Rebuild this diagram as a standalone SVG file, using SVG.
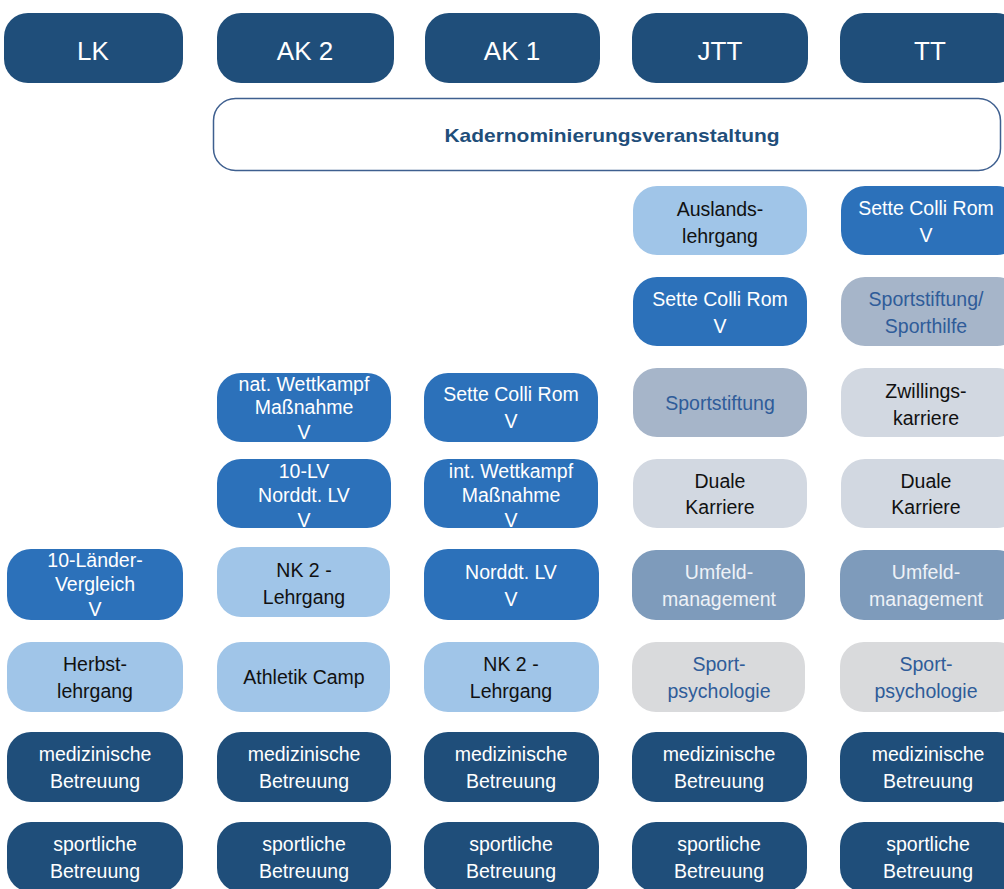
<svg xmlns="http://www.w3.org/2000/svg" width="1004" height="889" viewBox="0 0 1004 889">
<style>
text{font-family:"Liberation Sans",Arial,sans-serif;font-size:19.5px;text-anchor:middle}
.navy{fill:#1f4e7a}
.blue{fill:#2c71ba}
.lb{fill:#a0c5e8}
.gb{fill:#a6b5c9}
.sl{fill:#7e9bbb}
.lg{fill:#d2d8e1}
.sp{fill:#d9dadc}
.tw{fill:#ffffff}
.tk{fill:#111111}
.td{fill:#2f5c99}
.tl{fill:#eef2f7}
.head{font-size:26px}
</style>
<rect width="1004" height="889" fill="#ffffff"/>
<g id="connectors"/>
<!-- header row -->
<g id="LK"><rect class="navy" x="4" y="13" width="179" height="70" rx="24"/><text class="tw head" x="93" y="60">LK</text></g>
<g id="AK2"><rect class="navy" x="217" y="13" width="177" height="70" rx="24"/><text class="tw head" x="305" y="60">AK 2</text></g>
<g id="AK1"><rect class="navy" x="425" y="13" width="175" height="70" rx="24"/><text class="tw head" x="512" y="60">AK 1</text></g>
<g id="JTT"><rect class="navy" x="632" y="13" width="176" height="70" rx="24"/><text class="tw head" x="720" y="60">JTT</text></g>
<g id="TT"><rect class="navy" x="840" y="13" width="180" height="70" rx="24"/><text class="tw head" x="930" y="60">TT</text></g>
<!-- banner -->
<g id="kadernominierung"><rect x="213.5" y="98.5" width="787" height="72" rx="22" fill="#ffffff" stroke="#3e5f8f" stroke-width="1.5"/><text x="612" y="142" style="font-weight:bold;fill:#1f4e7a;font-size:18.5px" textLength="335" lengthAdjust="spacingAndGlyphs">Kadernominierungsveranstaltung</text></g>
<!-- row 1 -->
<g id="jtt-auslands"><rect class="lb" x="633" y="186" width="174" height="69" rx="24"/><text class="tk" x="720" y="216">Auslands-</text><text class="tk" x="720" y="243">lehrgang</text></g>
<g id="tt-sette"><rect class="blue" x="841" y="186" width="180" height="69" rx="24"/><text class="tw" x="926" y="215">Sette Colli Rom</text><text class="tw" x="926" y="242">V</text></g>
<!-- row 2 -->
<g id="jtt-sette"><rect class="blue" x="633" y="277" width="174" height="69" rx="24"/><text class="tw" x="720" y="306">Sette Colli Rom</text><text class="tw" x="720" y="333">V</text></g>
<g id="tt-sporthilfe"><rect class="gb" x="841" y="277" width="180" height="69" rx="24"/><text class="td" x="926" y="306">Sportstiftung/</text><text class="td" x="926" y="333">Sporthilfe</text></g>
<!-- row 3 -->
<g id="ak2-nat"><rect class="blue" x="217" y="373" width="174" height="69" rx="24"/><text class="tw" x="304" y="391">nat. Wettkampf</text><text class="tw" x="304" y="414">Maßnahme</text><text class="tw" x="304" y="439">V</text></g>
<g id="ak1-sette"><rect class="blue" x="424" y="373" width="174" height="69" rx="24"/><text class="tw" x="511" y="401">Sette Colli Rom</text><text class="tw" x="511" y="428">V</text></g>
<g id="jtt-sportstiftung"><rect class="gb" x="633" y="368" width="174" height="69" rx="24"/><text class="td" x="720" y="410">Sportstiftung</text></g>
<g id="tt-zwillings"><rect class="lg" x="841" y="368" width="180" height="69" rx="24"/><text class="tk" x="926" y="398">Zwillings-</text><text class="tk" x="926" y="425">karriere</text></g>
<!-- row 4 -->
<g id="ak2-10lv"><rect class="blue" x="217" y="459" width="174" height="69" rx="24"/><text class="tw" x="304" y="478">10-LV</text><text class="tw" x="304" y="502">Norddt. LV</text><text class="tw" x="304" y="527">V</text></g>
<g id="ak1-int"><rect class="blue" x="424" y="459" width="174" height="69" rx="24"/><text class="tw" x="511" y="478">int. Wettkampf</text><text class="tw" x="511" y="502">Maßnahme</text><text class="tw" x="511" y="527">V</text></g>
<g id="jtt-duale"><rect class="lg" x="633" y="459" width="174" height="69" rx="24"/><text class="tk" x="720" y="488">Duale</text><text class="tk" x="720" y="514">Karriere</text></g>
<g id="tt-duale"><rect class="lg" x="841" y="459" width="180" height="69" rx="24"/><text class="tk" x="926" y="488">Duale</text><text class="tk" x="926" y="514">Karriere</text></g>
<!-- row 5 -->
<g id="lk-10laender"><rect class="blue" x="7" y="549" width="176" height="71" rx="24"/><text class="tw" x="95" y="567">10-Länder-</text><text class="tw" x="95" y="591">Vergleich</text><text class="tw" x="95" y="616">V</text></g>
<g id="ak2-nk2"><rect class="lb" x="217" y="547" width="173" height="70" rx="24"/><text class="tk" x="304" y="577">NK 2 -</text><text class="tk" x="304" y="604">Lehrgang</text></g>
<g id="ak1-norddt"><rect class="blue" x="424" y="549" width="175" height="71" rx="24"/><text class="tw" x="511" y="579">Norddt. LV</text><text class="tw" x="511" y="606">V</text></g>
<g id="jtt-umfeld"><rect class="sl" x="632" y="550" width="173" height="70" rx="24"/><text class="tl" x="719" y="579">Umfeld-</text><text class="tl" x="719" y="606">management</text></g>
<g id="tt-umfeld"><rect class="sl" x="840" y="550" width="181" height="70" rx="24"/><text class="tl" x="926" y="579">Umfeld-</text><text class="tl" x="926" y="606">management</text></g>
<!-- row 6 -->
<g id="lk-herbst"><rect class="lb" x="7" y="642" width="176" height="70" rx="24"/><text class="tk" x="95" y="671">Herbst-</text><text class="tk" x="95" y="698">lehrgang</text></g>
<g id="ak2-athletik"><rect class="lb" x="217" y="642" width="173" height="70" rx="24"/><text class="tk" x="304" y="684">Athletik Camp</text></g>
<g id="ak1-nk2"><rect class="lb" x="424" y="642" width="175" height="70" rx="24"/><text class="tk" x="511" y="671">NK 2 -</text><text class="tk" x="511" y="698">Lehrgang</text></g>
<g id="jtt-psych"><rect class="sp" x="632" y="642" width="173" height="70" rx="24"/><text class="td" x="719" y="671">Sport-</text><text class="td" x="719" y="698">psychologie</text></g>
<g id="tt-psych"><rect class="sp" x="840" y="642" width="181" height="70" rx="24"/><text class="td" x="926" y="671">Sport-</text><text class="td" x="926" y="698">psychologie</text></g>
<!-- row 7 -->
<g id="lk-med"><rect class="navy" x="7" y="732" width="176" height="70" rx="24"/><text class="tw" x="95" y="761">medizinische</text><text class="tw" x="95" y="788">Betreuung</text></g>
<g id="ak2-med"><rect class="navy" x="217" y="732" width="174" height="70" rx="24"/><text class="tw" x="304" y="761">medizinische</text><text class="tw" x="304" y="788">Betreuung</text></g>
<g id="ak1-med"><rect class="navy" x="424" y="732" width="175" height="70" rx="24"/><text class="tw" x="511" y="761">medizinische</text><text class="tw" x="511" y="788">Betreuung</text></g>
<g id="jtt-med"><rect class="navy" x="632" y="732" width="175" height="70" rx="24"/><text class="tw" x="719" y="761">medizinische</text><text class="tw" x="719" y="788">Betreuung</text></g>
<g id="tt-med"><rect class="navy" x="840" y="732" width="181" height="70" rx="24"/><text class="tw" x="928" y="761">medizinische</text><text class="tw" x="928" y="788">Betreuung</text></g>
<!-- row 8 -->
<g id="lk-sport"><rect class="navy" x="7" y="822" width="176" height="70" rx="24"/><text class="tw" x="95" y="851">sportliche</text><text class="tw" x="95" y="878">Betreuung</text></g>
<g id="ak2-sport"><rect class="navy" x="217" y="822" width="174" height="70" rx="24"/><text class="tw" x="304" y="851">sportliche</text><text class="tw" x="304" y="878">Betreuung</text></g>
<g id="ak1-sport"><rect class="navy" x="424" y="822" width="175" height="70" rx="24"/><text class="tw" x="511" y="851">sportliche</text><text class="tw" x="511" y="878">Betreuung</text></g>
<g id="jtt-sport"><rect class="navy" x="632" y="822" width="175" height="70" rx="24"/><text class="tw" x="719" y="851">sportliche</text><text class="tw" x="719" y="878">Betreuung</text></g>
<g id="tt-sport"><rect class="navy" x="840" y="822" width="181" height="70" rx="24"/><text class="tw" x="928" y="851">sportliche</text><text class="tw" x="928" y="878">Betreuung</text></g>
</svg>
